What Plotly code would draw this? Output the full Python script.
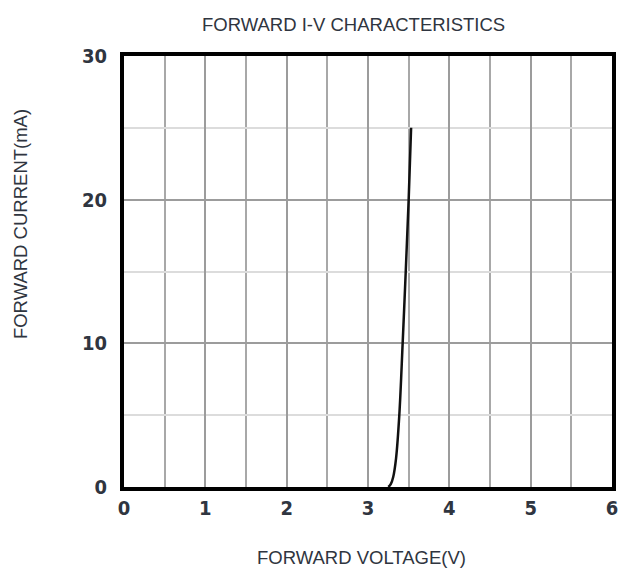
import plotly.graph_objects as go

voltage_v = [3.25, 3.28, 3.31, 3.345, 3.385, 3.426, 3.464, 3.50, 3.53]
current_ma = [0, 0.2, 0.7, 2.0, 5.0, 10.0, 15.0, 20.0, 25.0]
x_ticks = [0, 1, 2, 3, 4, 5, 6]
y_ticks = [0, 10, 20, 30]

TICK_FONT = "DejaVu Sans Condensed, Liberation Sans Narrow, sans-serif"
TITLE_FONT = "Liberation Sans, Arial, sans-serif"
TXT = "#2f3540"

fig = go.Figure()
fig.add_trace(go.Scatter(x=voltage_v, y=current_ma, mode="lines",
                         line=dict(color="#111111", width=2.5, shape="spline"),
                         showlegend=False, hoverinfo="skip"))

axis_common = dict(showline=True, linecolor="black", linewidth=4, mirror=True,
                   showgrid=True, gridcolor="#9c9c9c", gridwidth=2,
                   zeroline=False, ticks="", automargin=False,
                   tickfont=dict(family=TICK_FONT, size=20, color=TXT, weight="bold"))
fig.update_xaxes(range=[0, 6], tickvals=x_ticks,
                 minor=dict(dtick=0.5, showgrid=True, gridcolor="#a8a8a8", gridwidth=2),
                 ticklabelstandoff=0, **axis_common)
fig.update_yaxes(range=[0, 30], tickvals=y_ticks,
                 minor=dict(dtick=5, showgrid=True, gridcolor="#dcdcdc", gridwidth=1.5),
                 ticklabelstandoff=9, **axis_common)

fig.add_annotation(text="FORWARD I-V CHARACTERISTICS", xref="paper", yref="paper",
                   x=0.471, y=1.0, yanchor="middle", yshift=32, showarrow=False,
                   font=dict(family=TITLE_FONT, size=18.5, color=TXT))
fig.add_annotation(text="FORWARD VOLTAGE(V)", xref="paper", yref="paper",
                   x=0.486, y=0, yanchor="middle", yshift=-70, showarrow=False,
                   font=dict(family=TITLE_FONT, size=18.5, color=TXT))
fig.add_annotation(text="FORWARD CURRENT(mA)", xref="paper", yref="paper",
                   x=0, xanchor="center", xshift=-104, y=0.61, yanchor="middle",
                   textangle=-90, showarrow=False,
                   font=dict(family=TITLE_FONT, size=18.5, color=TXT))

fig.update_layout(width=621, height=568, margin=dict(l=124, r=9, t=56, b=81),
                  plot_bgcolor="white", paper_bgcolor="white")
fig.write_html("out.html",
               config={"displayModeBar": False, "responsive": False},
               post_script="document.body.style.margin='0';document.body.style.overflow='hidden';")
